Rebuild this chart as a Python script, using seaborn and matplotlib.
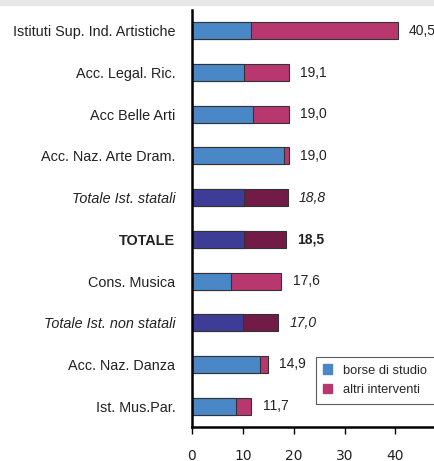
import matplotlib
matplotlib.use('Agg')
import matplotlib.pyplot as plt
import matplotlib.patches as mpatches
import seaborn as sns
import pandas as pd

# categories top to bottom
categories = ['Istituti Sup. Ind. Artistiche', 'Acc. Legal. Ric.', 'Acc Belle Arti',
              'Acc. Naz. Arte Dram.', 'Totale Ist. statali', 'TOTALE', 'Cons. Musica',
              'Totale Ist. non statali', 'Acc. Naz. Danza', 'Ist. Mus.Par.']
totals = [40.5, 19.1, 19.0, 19.0, 18.8, 18.5, 17.6, 17.0, 14.9, 11.7]
borse = [11.7, 10.3, 12.0, 18.0, 10.2, 10.2, 7.6, 10.0, 13.4, 8.6]
# which rows are aggregates (drawn darker)
is_total = [False, False, False, False, True, True, False, True, False, False]
label_style = ['normal', 'normal', 'normal', 'normal', 'italic', 'bold', 'normal', 'italic', 'normal', 'normal']
x_ticks = [0, 10, 20, 30, 40]
legend_labels = ['borse di studio', 'altri interventi']

BLUE, MAGENTA = '#4a87c6', '#b8376f'
DARK_BLUE, DARK_RED = '#3d3d97', '#711b46'

df = pd.DataFrame({'cat': categories, 'tot': totals, 'borse': borse})

sns.set_style('white')
plt.rcParams['font.family'] = ['Liberation Sans', 'DejaVu Sans']

fig = plt.figure(figsize=(4.35, 4.61), dpi=100)
# grey band at the top of the page
fig.patches.append(mpatches.Rectangle((0, 1 - 5 / 461), 1, 5 / 461, transform=fig.transFigure,
                                      color='#e6e7e9', zorder=0))
ax = fig.add_axes([192 / 435, 1 - 427 / 461, 1 - 192 / 435, 417 / 461])

pal_tot = {c: (DARK_RED if t else MAGENTA) for c, t in zip(categories, is_total)}
pal_bor = {c: (DARK_BLUE if t else BLUE) for c, t in zip(categories, is_total)}

sns.barplot(data=df, y='cat', x='tot', hue='cat', palette=pal_tot, legend=False, saturation=1,
            orient='h', width=0.41, edgecolor='#333333', linewidth=0.8, ax=ax)
sns.barplot(data=df, y='cat', x='borse', hue='cat', palette=pal_bor, legend=False, saturation=1,
            orient='h', width=0.41, edgecolor='#333333', linewidth=0.8, ax=ax)

for i, (t, st) in enumerate(zip(totals, label_style)):
    kw = {}
    if st == 'italic':
        kw['style'] = 'italic'
    if st == 'bold':
        kw['weight'] = 'bold'
    ax.annotate(f'{t:.1f}'.replace('.', ','), xy=(t, i), xytext=(8, 0),
                textcoords='offset points', va='center', ha='left', fontsize=10,
                color='#222222', **kw)

ax.set_xlim(0, 47.8)
ax.set_ylim(9.5, -0.5)
ax.set_xticks(x_ticks)
ax.set_xticklabels([str(v) for v in x_ticks], family='DejaVu Sans', fontsize=10, color='#222222')
ax.tick_params(axis='x', bottom=True, length=5, width=1, color='black', pad=10.5)
ax.tick_params(axis='y', left=False, length=0, pad=12)
for lab, st in zip(ax.get_yticklabels(), label_style):
    lab.set_fontsize(10.4)
    lab.set_color('#222222')
    if st == 'italic':
        lab.set_style('italic')
    if st == 'bold':
        lab.set_weight('bold')
ax.set_xlabel('')
ax.set_ylabel('')
for s in ['top', 'right']:
    ax.spines[s].set_visible(False)
ax.spines['left'].set_linewidth(1.8)
ax.spines['bottom'].set_linewidth(1.8)
ax.spines['left'].set_color('black')
ax.spines['bottom'].set_color('black')

handles = [mpatches.Patch(color=BLUE, label=legend_labels[0]),
           mpatches.Patch(color=MAGENTA, label=legend_labels[1])]
leg = ax.legend(handles=handles, loc='lower right', bbox_to_anchor=(0.998, 0.055),
                borderaxespad=0, fontsize=9.3, frameon=True, fancybox=False, handlelength=0.7,
                handleheight=0.7, handletextpad=0.8, borderpad=0.6, labelspacing=0.6)
leg.get_frame().set_edgecolor('#333333')
leg.get_frame().set_linewidth(0.8)

fig.savefig('out.png', dpi=100)
